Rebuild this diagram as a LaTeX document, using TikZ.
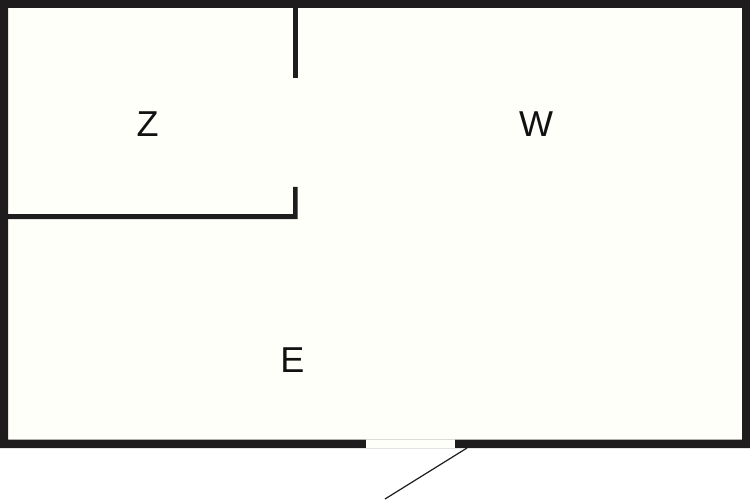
\documentclass[tikz,border=0pt]{standalone}
\usepackage{fontspec}
\setmainfont{Liberation Sans}
\definecolor{wallc}{HTML}{1E1C1C}
\definecolor{inkc}{HTML}{111111}
\definecolor{floorc}{HTML}{FFFFFA}
\definecolor{sillc}{HTML}{DDDDD5}
\tikzset{
  roomlabel/.style={font=\fontsize{36}{36}\selectfont,text=inkc,inner sep=0pt,anchor=center},
  swing/.style={draw=wallc,line width=1.2pt}
}
\begin{document}
\begin{tikzpicture}[x=1pt,y=-1pt]
\useasboundingbox (0,0) rectangle (750,500);
\fill[white] (0,0) rectangle (750,500);
% floor
\fill[floorc] (0,0) rectangle (750,448);
% outer walls
\fill[wallc,even odd rule] (0,0) rectangle (750,448) (8,8) rectangle (742,439.5);
% door opening
\fill[floorc] (365.5,439) rectangle (455,448);
\fill[sillc] (365.5,438.5) rectangle (455,439.8);
% partitions
\fill[wallc] (293,8) rectangle (297.5,78);
\fill[wallc] (8,214) -- (293,214) -- (293,187) -- (297.5,187) -- (297.5,219) -- (8,219) -- cycle;
% door leaf
\coordinate (hinge) at (467,448);
\coordinate (leaf) at (385,499);
\draw[swing] (hinge) -- (leaf);
\node[roomlabel] (z) at (147.5,124) {Z};
\node[roomlabel] (w) at (536,124) {W};
\node[roomlabel] (e) at (292.5,360.5) {E};
\end{tikzpicture}
\end{document}
